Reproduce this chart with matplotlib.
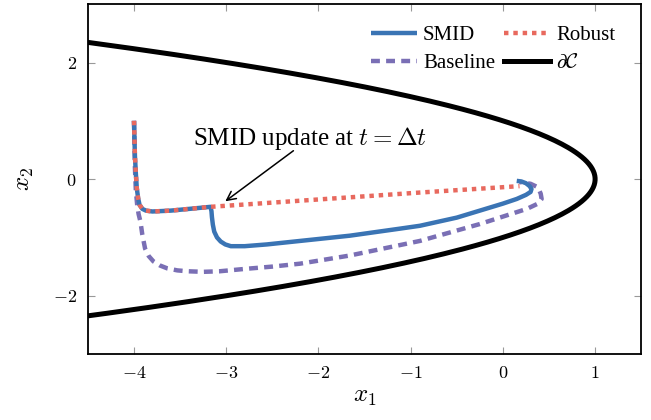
import numpy as np
import matplotlib
matplotlib.use("Agg")
import matplotlib.pyplot as plt
from matplotlib.ticker import FuncFormatter

plt.rcParams['font.family'] = ['Liberation Serif', 'DejaVu Serif']
plt.rcParams['mathtext.fontset'] = 'cm'

# Data
smid_x = [-4.0, -3.995, -3.99, -3.98, -3.97, -3.955, -3.94, -3.91, -3.87, -3.8, -3.6, -3.4, -3.17,
          -3.16, -3.155, -3.145, -3.13, -3.1, -3.06, -3.01, -2.95, -2.8, -2.56, -2.2, -1.66,
          -1.12, -0.9, -0.5, -0.25, 0.0, 0.15, 0.25, 0.3, 0.31, 0.29, 0.25, 0.2, 0.15]
smid_y = [1.0, 0.7, 0.4, 0.1, -0.15, -0.33, -0.44, -0.51, -0.54, -0.555, -0.54, -0.51, -0.475,
          -0.55, -0.65, -0.78, -0.9, -1.0, -1.07, -1.12, -1.15, -1.15, -1.12, -1.06, -0.97,
          -0.85, -0.8, -0.66, -0.54, -0.42, -0.34, -0.27, -0.22, -0.17, -0.12, -0.07, -0.04, -0.03]

robust_x = [-4.0, -3.995, -3.99, -3.98, -3.97, -3.955, -3.94, -3.91, -3.87, -3.8, -3.6, -3.4, -3.17,
            -0.9, 0.18]
robust_y = [1.0, 0.7, 0.4, 0.1, -0.15, -0.33, -0.44, -0.51, -0.54, -0.555, -0.54, -0.51, -0.475,
            -0.23, -0.12]

base_x = [-4.0, -3.995, -3.99, -3.98, -3.965, -3.95, -3.93, -3.91, -3.88, -3.84, -3.79, -3.72,
          -3.64, -3.53, -3.42, -3.25, -3.07, -2.8, -2.5, -2.2, -1.66, -0.9, -0.25, 0.26, 0.38,
          0.42, 0.41, 0.38, 0.3, 0.18]
base_y = [1.0, 0.6, 0.2, -0.2, -0.45, -0.6, -0.73, -0.95, -1.19, -1.32, -1.41, -1.48,
          -1.53, -1.565, -1.58, -1.59, -1.58, -1.54, -1.5, -1.45, -1.31, -1.06, -0.77, -0.51,
          -0.42, -0.34, -0.25, -0.14, -0.08, -0.05]

bnd_x2 = np.linspace(-2.4, 2.4, 241)
bnd_x1 = 1 - bnd_x2 ** 2

xticks = [-4, -3, -2, -1, 0, 1]
yticks = [-2, 0, 2]

fig = plt.figure(figsize=(6.51, 4.2), dpi=100)
ax = fig.add_axes([0.135, 0.157, 0.850, 0.833])

c_smid = '#3a74b4'
c_rob = '#e8695e'
c_base = '#7a6fb5'
lw = 3.2

l_smid, = ax.plot(smid_x, smid_y, color=c_smid, lw=lw, solid_capstyle='butt', label='SMID', zorder=3)
l_rob, = ax.plot(robust_x, robust_y, color=c_rob, lw=lw, linestyle=(0, (1.0, 1.1)), label='Robust', zorder=4)
l_base, = ax.plot(base_x, base_y, color=c_base, lw=lw, linestyle=(0, (2.0, 1.4)), label='Baseline', zorder=2)
l_bnd, = ax.plot(bnd_x1, bnd_x2, color='black', lw=3.6, label=r'$\partial\mathcal{C}$', zorder=2)

ax.annotate(r'SMID update at $t = \Delta t$', xy=(-3.01, -0.38), xytext=(-2.09, 0.70),
            ha='center', va='center', fontsize=18,
            arrowprops=dict(arrowstyle='->', color='black', lw=1.1, shrinkA=15, shrinkB=0,
                            patchA=None, mutation_scale=16))

ax.set_xlim(-4.5, 1.5)
ax.set_ylim(-3, 3)
ax.set_xticks(xticks)
ax.set_yticks(yticks)
ax.xaxis.set_major_formatter(FuncFormatter(lambda v, p: r'$%d$' % int(round(v))))
ax.yaxis.set_major_formatter(FuncFormatter(lambda v, p: r'$%d$' % int(round(v))))
ax.tick_params(direction='in', length=5, width=0.8, color='#999999', top=True, right=True,
               labelsize=13, pad=8)
for sp in ax.spines.values():
    sp.set_linewidth(1.3)
ax.set_xlabel(r'$x_1$', fontsize=18, labelpad=3)
ax.set_ylabel(r'$x_2$', fontsize=18, labelpad=12)

ax.legend(handles=[l_smid, l_base, l_rob, l_bnd], ncol=2, loc='upper right', frameon=False,
          bbox_to_anchor=(0.965, 0.957), bbox_transform=ax.transAxes,
          fontsize=15, handlelength=2.2, columnspacing=0.45, handletextpad=0.3,
          borderaxespad=0.0, labelspacing=0.4, borderpad=0.3)

fig.savefig('out.png', dpi=100)
